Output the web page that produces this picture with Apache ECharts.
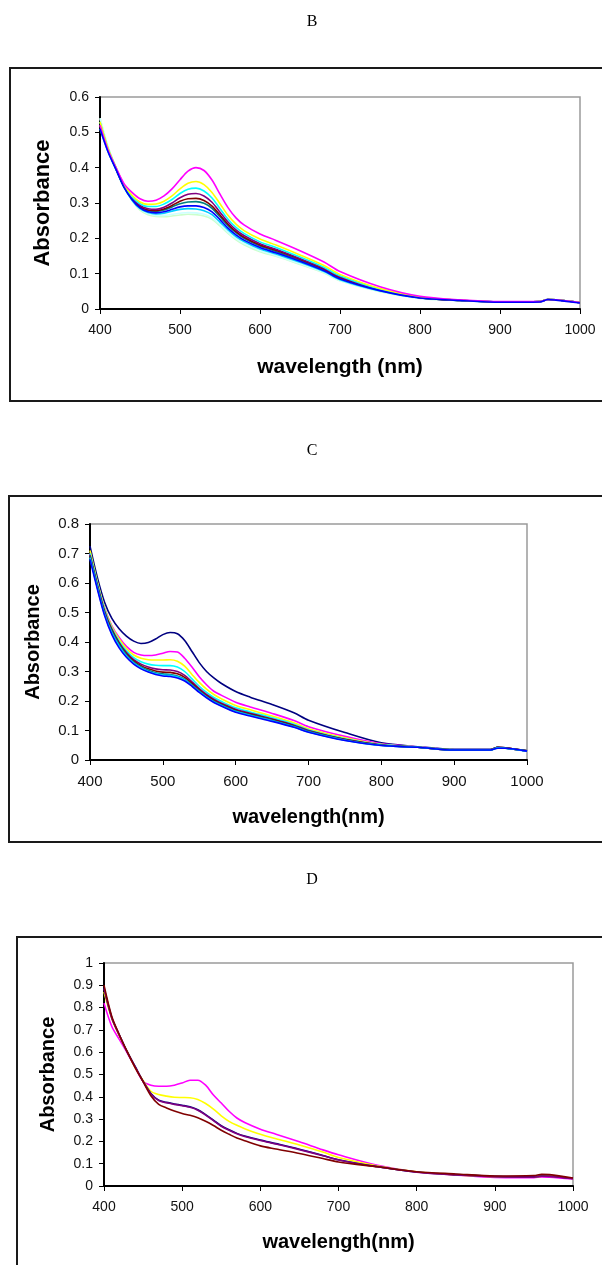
<!DOCTYPE html>
<html>
<head>
<meta charset="utf-8">
<script src="https://cdn.jsdelivr.net/npm/echarts@6/dist/echarts.min.js"></script>
<style>
  html, body { margin: 0; padding: 0; background: #fff; }
  #chart { width: 602px; height: 1265px; }
</style>
</head>
<body>
<div id="chart"></div>
<script>
// Wavelength grid (nm) shared by every spectrum
const wavelength = [400,410,420,430,440,450,460,470,480,490,500,510,520,530,540,550,560,570,580,600,620,650,680,700,750,800,850,900,950,960,970,1000];

// Panel B spectra
const bMagenta   = [0.52,0.45,0.40,0.355,0.33,0.312,0.305,0.308,0.32,0.34,0.366,0.39,0.40,0.392,0.365,0.325,0.287,0.258,0.238,0.212,0.194,0.165,0.133,0.106,0.063,0.036,0.026,0.021,0.021,0.027,0.026,0.018];
const bYellow    = [0.53,0.455,0.40,0.352,0.322,0.303,0.296,0.297,0.305,0.32,0.34,0.356,0.361,0.352,0.33,0.298,0.265,0.24,0.222,0.198,0.181,0.153,0.123,0.098,0.058,0.034,0.025,0.02,0.021,0.027,0.026,0.018];
const bCyan      = [0.53,0.455,0.40,0.35,0.318,0.298,0.29,0.29,0.297,0.31,0.327,0.339,0.342,0.334,0.314,0.284,0.254,0.231,0.214,0.19,0.174,0.147,0.118,0.094,0.056,0.033,0.025,0.02,0.021,0.027,0.026,0.018];
const bPurple    = [0.52,0.45,0.398,0.348,0.315,0.293,0.284,0.282,0.288,0.3,0.315,0.325,0.327,0.32,0.302,0.274,0.246,0.224,0.208,0.185,0.169,0.143,0.115,0.091,0.055,0.033,0.025,0.02,0.021,0.027,0.026,0.018];
const bMaroon    = [0.52,0.45,0.397,0.347,0.313,0.29,0.28,0.278,0.283,0.293,0.305,0.312,0.313,0.307,0.291,0.266,0.24,0.219,0.203,0.181,0.166,0.141,0.113,0.089,0.054,0.032,0.024,0.02,0.021,0.027,0.026,0.018];
const bTeal      = [0.52,0.45,0.396,0.346,0.312,0.289,0.278,0.276,0.28,0.289,0.298,0.303,0.304,0.299,0.285,0.261,0.236,0.216,0.2,0.178,0.163,0.138,0.111,0.087,0.053,0.032,0.024,0.02,0.021,0.027,0.026,0.018];
const bBlue      = [0.51,0.445,0.395,0.345,0.31,0.286,0.275,0.272,0.275,0.282,0.289,0.292,0.292,0.287,0.275,0.253,0.229,0.21,0.195,0.174,0.159,0.135,0.108,0.085,0.052,0.031,0.024,0.019,0.02,0.027,0.025,0.017];
const bSky       = [0.51,0.445,0.394,0.344,0.308,0.284,0.273,0.269,0.271,0.277,0.282,0.284,0.283,0.278,0.267,0.246,0.224,0.205,0.191,0.17,0.156,0.132,0.106,0.083,0.051,0.031,0.024,0.02,0.021,0.027,0.026,0.018];
const bTurquoise = [0.54,0.46,0.40,0.347,0.31,0.283,0.27,0.265,0.265,0.268,0.271,0.273,0.272,0.268,0.258,0.239,0.217,0.199,0.185,0.165,0.151,0.128,0.104,0.081,0.05,0.03,0.024,0.02,0.021,0.027,0.026,0.019];
const bGreen     = [0.54,0.46,0.40,0.346,0.308,0.28,0.267,0.262,0.261,0.263,0.266,0.268,0.267,0.263,0.254,0.235,0.214,0.196,0.182,0.162,0.149,0.126,0.102,0.08,0.049,0.03,0.024,0.02,0.021,0.028,0.026,0.019];

// Panel C spectra
const cNavy    = [0.725,0.62,0.535,0.48,0.445,0.42,0.403,0.395,0.398,0.41,0.425,0.432,0.428,0.405,0.368,0.33,0.3,0.278,0.26,0.232,0.213,0.188,0.16,0.135,0.093,0.058,0.045,0.036,0.036,0.043,0.041,0.031];
const cMagenta = [0.70,0.60,0.515,0.455,0.415,0.385,0.365,0.356,0.354,0.356,0.362,0.368,0.366,0.345,0.315,0.282,0.255,0.233,0.22,0.196,0.18,0.158,0.134,0.113,0.08,0.055,0.045,0.035,0.035,0.043,0.041,0.031];
const cYellow  = [0.71,0.605,0.515,0.452,0.41,0.378,0.356,0.345,0.34,0.339,0.339,0.34,0.335,0.318,0.29,0.263,0.24,0.222,0.208,0.185,0.17,0.149,0.126,0.106,0.075,0.053,0.044,0.035,0.035,0.043,0.041,0.031];
const cCyan    = [0.70,0.60,0.51,0.447,0.403,0.37,0.347,0.333,0.325,0.321,0.32,0.32,0.315,0.30,0.275,0.25,0.229,0.212,0.199,0.177,0.163,0.143,0.121,0.102,0.072,0.052,0.044,0.035,0.035,0.043,0.041,0.031];
const cPurple  = [0.695,0.595,0.505,0.443,0.398,0.364,0.34,0.325,0.315,0.309,0.306,0.305,0.30,0.287,0.265,0.242,0.222,0.206,0.193,0.172,0.158,0.139,0.118,0.10,0.07,0.051,0.043,0.034,0.035,0.043,0.041,0.031];
const cMaroon  = [0.69,0.59,0.50,0.44,0.395,0.36,0.336,0.32,0.309,0.302,0.298,0.297,0.292,0.28,0.26,0.238,0.218,0.202,0.19,0.169,0.156,0.137,0.116,0.098,0.069,0.05,0.043,0.034,0.035,0.043,0.041,0.031];
const cTeal    = [0.69,0.588,0.497,0.436,0.392,0.357,0.332,0.316,0.304,0.296,0.292,0.29,0.285,0.274,0.255,0.234,0.215,0.199,0.187,0.166,0.153,0.135,0.114,0.097,0.068,0.05,0.043,0.034,0.034,0.042,0.04,0.031];
const cSky     = [0.685,0.585,0.494,0.43,0.386,0.352,0.328,0.312,0.3,0.293,0.288,0.287,0.282,0.271,0.252,0.231,0.213,0.197,0.185,0.164,0.151,0.133,0.112,0.095,0.067,0.049,0.043,0.034,0.034,0.041,0.04,0.03];
const cBlue    = [0.68,0.58,0.49,0.425,0.38,0.348,0.325,0.309,0.298,0.29,0.285,0.283,0.278,0.268,0.25,0.229,0.211,0.195,0.183,0.162,0.149,0.131,0.111,0.094,0.066,0.049,0.043,0.034,0.034,0.04,0.04,0.03];

// Panel D spectra
const dMagenta = [0.82,0.715,0.655,0.595,0.53,0.47,0.452,0.447,0.447,0.452,0.462,0.474,0.474,0.452,0.408,0.372,0.335,0.305,0.285,0.255,0.232,0.198,0.162,0.14,0.093,0.063,0.05,0.038,0.037,0.041,0.04,0.032];
const dYellow  = [0.87,0.75,0.67,0.60,0.53,0.473,0.425,0.41,0.403,0.398,0.397,0.396,0.388,0.37,0.345,0.315,0.29,0.272,0.257,0.232,0.212,0.184,0.152,0.128,0.09,0.064,0.05,0.042,0.04,0.044,0.044,0.034];
const dNavy    = [0.89,0.755,0.675,0.60,0.535,0.47,0.415,0.385,0.375,0.368,0.362,0.355,0.342,0.32,0.295,0.27,0.252,0.236,0.224,0.206,0.19,0.165,0.137,0.118,0.087,0.063,0.051,0.043,0.041,0.045,0.044,0.034];
const dPurple  = [0.885,0.752,0.673,0.598,0.533,0.468,0.413,0.383,0.373,0.366,0.36,0.353,0.34,0.318,0.293,0.268,0.25,0.234,0.222,0.204,0.188,0.163,0.136,0.117,0.086,0.062,0.05,0.042,0.04,0.044,0.043,0.033];
const dMaroon  = [0.90,0.76,0.675,0.60,0.53,0.468,0.405,0.366,0.35,0.336,0.325,0.317,0.306,0.29,0.271,0.25,0.232,0.215,0.203,0.18,0.166,0.146,0.123,0.108,0.086,0.064,0.054,0.045,0.047,0.052,0.051,0.036];

// Axis tick values
const xTicks = [400,500,600,700,800,900,1000];
const yMaxB = 0.6, yMaxC = 0.8, yMaxD = 1;

const FONT = '"Liberation Sans", Arial, sans-serif';

function pairs(ys) { return wavelength.map((w, i) => [w, ys[i]]); }

const panels = [
  { key: 'B', grid: { left: 100, right: 22, top: 97, height: 212 }, yMax: yMaxB, tick: 14,
    yName: 'Absorbance', yNameSize: 22, yGap: 46, xName: 'wavelength (nm)', xNameSize: 21, xGap: 48,
    series: [
      [bGreen, '#CCFFCC'], [bTurquoise, '#CCFFFF'], [bSky, '#00CCFF'], [bTeal, '#008080'],
      [bMaroon, '#800000'], [bPurple, '#800080'], [bCyan, '#00FFFF'], [bYellow, '#FFFF00'],
      [bMagenta, '#FF00FF'], [bBlue, '#0000FF']
    ] },
  { key: 'C', grid: { left: 90, right: 75, top: 524, height: 236 }, yMax: yMaxC, tick: 15,
    yName: 'Absorbance', yNameSize: 20, yGap: 47, xName: 'wavelength(nm)', xNameSize: 20, xGap: 47,
    series: [
      [cNavy, '#000080'], [cMagenta, '#FF00FF'], [cYellow, '#FFFF00'], [cCyan, '#00FFFF'],
      [cPurple, '#800080'], [cMaroon, '#800000'], [cTeal, '#008080'], [cSky, '#00CCFF'],
      [cBlue, '#0000FF']
    ] },
  { key: 'D', grid: { left: 104, right: 29, top: 963, height: 223 }, yMax: yMaxD, tick: 14,
    yName: 'Absorbance', yNameSize: 20, yGap: 46, xName: 'wavelength(nm)', xNameSize: 20, xGap: 46,
    series: [
      [dMagenta, '#FF00FF'], [dYellow, '#FFFF00'], [dNavy, '#000080'], [dPurple, '#800080'],
      [dMaroon, '#800000']
    ] }
];

const option = {
  animation: false,
  backgroundColor: '#fff',
  grid: [], xAxis: [], yAxis: [], series: [],
  graphic: [
    // outer frames around each panel
    { type: 'rect', shape: { x: 10, y: 68, width: 620, height: 333 }, style: { fill: 'none', stroke: '#1a1a1a', lineWidth: 2 } },
    { type: 'rect', shape: { x: 9, y: 496, width: 620, height: 346 }, style: { fill: 'none', stroke: '#1a1a1a', lineWidth: 2 } },
    { type: 'rect', shape: { x: 17, y: 937, width: 620, height: 400 }, style: { fill: 'none', stroke: '#1a1a1a', lineWidth: 2 } },
    // panel letters
    { type: 'text', x: 312, y: 22, style: { text: 'B', font: '16px "Liberation Serif", "Times New Roman", serif', fill: '#000', textAlign: 'center', textVerticalAlign: 'middle' } },
    { type: 'text', x: 312, y: 451, style: { text: 'C', font: '16px "Liberation Serif", "Times New Roman", serif', fill: '#000', textAlign: 'center', textVerticalAlign: 'middle' } },
    { type: 'text', x: 312, y: 880, style: { text: 'D', font: '16px "Liberation Serif", "Times New Roman", serif', fill: '#000', textAlign: 'center', textVerticalAlign: 'middle' } }
  ]
};

panels.forEach((p, gi) => {
  option.grid.push(Object.assign({ show: true, borderColor: '#9a9a9a', borderWidth: 1.5, backgroundColor: '#fff' }, p.grid));
  option.xAxis.push({
    type: 'value', gridIndex: gi, min: 400, max: 1000, interval: 100,
    name: p.xName, nameLocation: 'middle', nameGap: p.xGap,
    nameTextStyle: { fontFamily: FONT, fontWeight: 'bold', fontSize: p.xNameSize, color: '#000' },
    axisLine: { lineStyle: { color: '#000', width: 2 } },
    axisTick: { show: true, length: 5, lineStyle: { color: '#000', width: 1 } },
    axisLabel: { fontFamily: FONT, fontSize: p.tick, color: '#111', margin: 14,
      formatter: v => (xTicks.indexOf(v) >= 0 ? String(v) : '') },
    splitLine: { show: false }
  });
  option.yAxis.push({
    type: 'value', gridIndex: gi, min: 0, max: p.yMax, interval: 0.1,
    name: p.yName, nameLocation: 'middle', nameGap: p.yGap, nameRotate: 90,
    nameTextStyle: { fontFamily: FONT, fontWeight: 'bold', fontSize: p.yNameSize, color: '#000' },
    axisLine: { show: true, lineStyle: { color: '#000', width: 2 } },
    axisTick: { show: true, length: 5, lineStyle: { color: '#000', width: 1 } },
    axisLabel: { fontFamily: FONT, fontSize: p.tick, color: '#111', margin: 11,
      formatter: v => String(Math.round(v * 10) / 10) },
    splitLine: { show: false }
  });
  p.series.forEach(([ys, color]) => {
    option.series.push({
      type: 'line', xAxisIndex: gi, yAxisIndex: gi, data: pairs(ys),
      showSymbol: false, symbol: 'none', smooth: 0.3,
      lineStyle: { color, width: 1.6 }, itemStyle: { color }
    });
  });
});

const chart = echarts.init(document.getElementById('chart'), null, { renderer: 'canvas' });
chart.setOption(option);
</script>
</body>
</html>
